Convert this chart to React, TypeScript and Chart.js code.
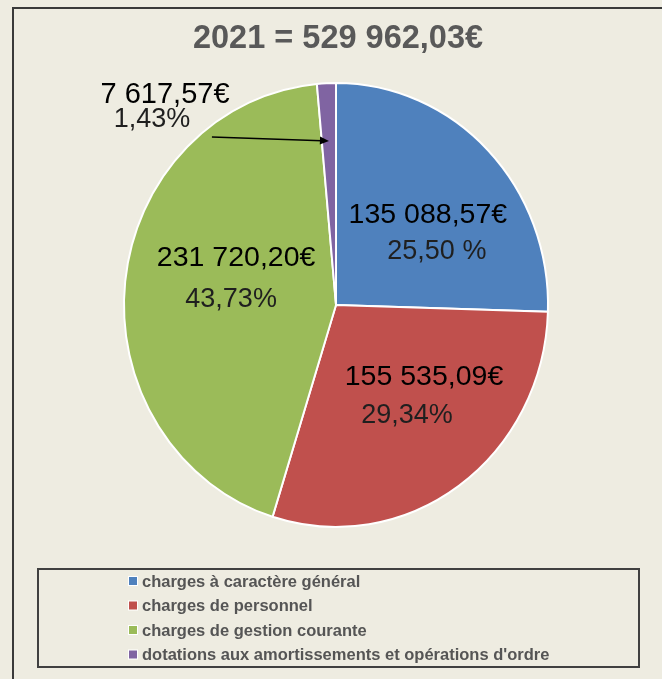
import { useEffect, useRef } from "react";
import { Chart, registerables } from "chart.js";

Chart.register(...registerables);

const categories = [
  "charges à caractère général",
  "charges de personnel",
  "charges de gestion courante",
  "dotations aux amortissements et opérations d'ordre",
];
const amounts = [135088.57, 155535.09, 231720.2, 7617.57];
const valueLabels = ["135 088,57€", "155 535,09€", "231 720,20€", "7 617,57€"];
const percentLabels = ["25,50 %", "29,34%", "43,73%", "1,43%"];
const sliceColors = ["#4F81BD", "#C0504D", "#9BBB59", "#8064A2"];
const titleText = "2021 = 529 962,03€";

// label placement (style/layout, not data)
const labelLayout = [
  { dAngle: 8.8, frac: 0.557, gap: 18.5, vdx: -4.5, pdx: 4.5, vSize: 28.5, pSize: 27, absAngle: null as number | null },
  { dAngle: -7.0, frac: 0.556, gap: 19, vdx: 8.5, pdx: -8.5, vSize: 28.5, pSize: 27, absAngle: null as number | null },
  { dAngle: 7.5, frac: 0.497, gap: 21, vdx: 2.5, pdx: -2.5, vSize: 28.5, pSize: 27, absAngle: null as number | null },
  { dAngle: 0, frac: 1.223, gap: 12, vdx: 6.5, pdx: -6.5, vSize: 29, pSize: 27, absAngle: 226.8 as number | null },
];
const arrowLayout = { startAngle: 232.3, startFrac: 0.957, endFrac: 0.74, slice: 3 };
// slight vertical stretch of the pie as in the reference
const SX = 212 / 217;
const SY = 222 / 217;

const BG = "#EEECE1";
const FONT = "'Liberation Sans', Arial, sans-serif";

const decorPlugin = {
  id: "decor",
  beforeDraw(chart: any) {
    const { ctx, width, height } = chart;
    ctx.save();
    ctx.fillStyle = BG;
    ctx.fillRect(0, 0, width, height);
    ctx.strokeStyle = "#3a3a3a";
    ctx.lineWidth = 2;
    ctx.beginPath();
    ctx.moveTo(13, height);
    ctx.lineTo(13, 8);
    ctx.lineTo(width, 8);
    ctx.stroke();
    ctx.fillStyle = "#595959";
    ctx.font = `bold 32.5px ${FONT}`;
    ctx.textAlign = "center";
    ctx.textBaseline = "middle";
    ctx.fillText(titleText, 338, 39);
    ctx.strokeStyle = "#404040";
    ctx.lineWidth = 2;
    ctx.strokeRect(38, 569, 601, 98);
    ctx.textAlign = "left";
    ctx.font = `bold 16.5px ${FONT}`;
    categories.forEach((c, i) => {
      const cy = 581 + i * 24.5;
      ctx.fillStyle = "#ffffff";
      ctx.fillRect(128, cy - 5, 10, 10);
      ctx.fillStyle = sliceColors[i];
      ctx.fillRect(129, cy - 4, 8, 8);
      ctx.fillStyle = "#555555";
      ctx.fillText(c, 142, cy + 1);
    });
    ctx.restore();
  },
  beforeDatasetsDraw(chart: any) {
    const { ctx, chartArea } = chart;
    const cx = (chartArea.left + chartArea.right) / 2;
    const cy = (chartArea.top + chartArea.bottom) / 2;
    ctx.save();
    ctx.translate(cx, cy);
    ctx.scale(SX, SY);
    ctx.translate(-cx, -cy);
  },
  afterDatasetsDraw(chart: any) {
    const { ctx } = chart;
    ctx.restore();
    const meta = chart.getDatasetMeta(0);
    ctx.save();
    ctx.textAlign = "center";
    ctx.textBaseline = "middle";
    meta.data.forEach((arc: any, i: number) => {
      const p = arc.getProps(["x", "y", "startAngle", "endAngle", "outerRadius"], true);
      const rx = p.outerRadius * SX;
      const ry = p.outerRadius * SY;
      const L = labelLayout[i];
      const mid = (p.startAngle + p.endAngle) / 2;
      const ang = L.absAngle !== null ? (L.absAngle * Math.PI) / 180 : mid + (L.dAngle * Math.PI) / 180;
      const cx = p.x + Math.cos(ang) * L.frac * rx;
      const cy = p.y + Math.sin(ang) * L.frac * ry;
      ctx.fillStyle = "#000000";
      ctx.font = `${L.vSize}px ${FONT}`;
      ctx.fillText(valueLabels[i], cx + L.vdx, cy - L.gap);
      ctx.fillStyle = "#1f1f1f";
      ctx.font = `${L.pSize}px ${FONT}`;
      ctx.fillText(percentLabels[i], cx + L.pdx, cy + L.gap);

      if (i === arrowLayout.slice) {
        const sa = (arrowLayout.startAngle * Math.PI) / 180;
        const x1 = p.x + Math.cos(sa) * arrowLayout.startFrac * rx;
        const y1 = p.y + Math.sin(sa) * arrowLayout.startFrac * ry;
        const x2 = p.x + Math.cos(mid) * arrowLayout.endFrac * rx;
        const y2 = p.y + Math.sin(mid) * arrowLayout.endFrac * ry;
        const a = Math.atan2(y2 - y1, x2 - x1);
        const head = 9;
        ctx.strokeStyle = "#000";
        ctx.fillStyle = "#000";
        ctx.lineWidth = 1.5;
        ctx.beginPath();
        ctx.moveTo(x1, y1);
        ctx.lineTo(x2 - Math.cos(a) * head * 0.8, y2 - Math.sin(a) * head * 0.8);
        ctx.stroke();
        ctx.beginPath();
        ctx.moveTo(x2, y2);
        ctx.lineTo(x2 - Math.cos(a) * head + Math.sin(a) * 4, y2 - Math.sin(a) * head - Math.cos(a) * 4);
        ctx.lineTo(x2 - Math.cos(a) * head - Math.sin(a) * 4, y2 - Math.sin(a) * head + Math.cos(a) * 4);
        ctx.closePath();
        ctx.fill();
      }
    });
    ctx.restore();
  },
};

export default function App() {
  const ref = useRef<HTMLCanvasElement | null>(null);
  useEffect(() => {
    document.body.style.margin = "0";
    document.body.style.background = BG;
    if (!ref.current) return;
    const chart = new Chart(ref.current, {
      type: "pie",
      data: {
        labels: categories,
        datasets: [
          {
            data: amounts,
            backgroundColor: sliceColors,
            borderColor: "#ffffff",
            borderWidth: 2,
          },
        ],
      },
      options: {
        responsive: false,
        animation: false,
        layout: { padding: { left: 118, right: 108, top: 87, bottom: 156 } },
        plugins: {
          legend: { display: false },
          title: { display: false },
          tooltip: { enabled: false },
        },
      },
      plugins: [decorPlugin],
    });
    return () => chart.destroy();
  }, []);
  return (
    <div style={{ width: 662, height: 679, background: BG }}>
      <canvas ref={ref} width={662} height={679} style={{ display: "block" }} />
    </div>
  );
}
